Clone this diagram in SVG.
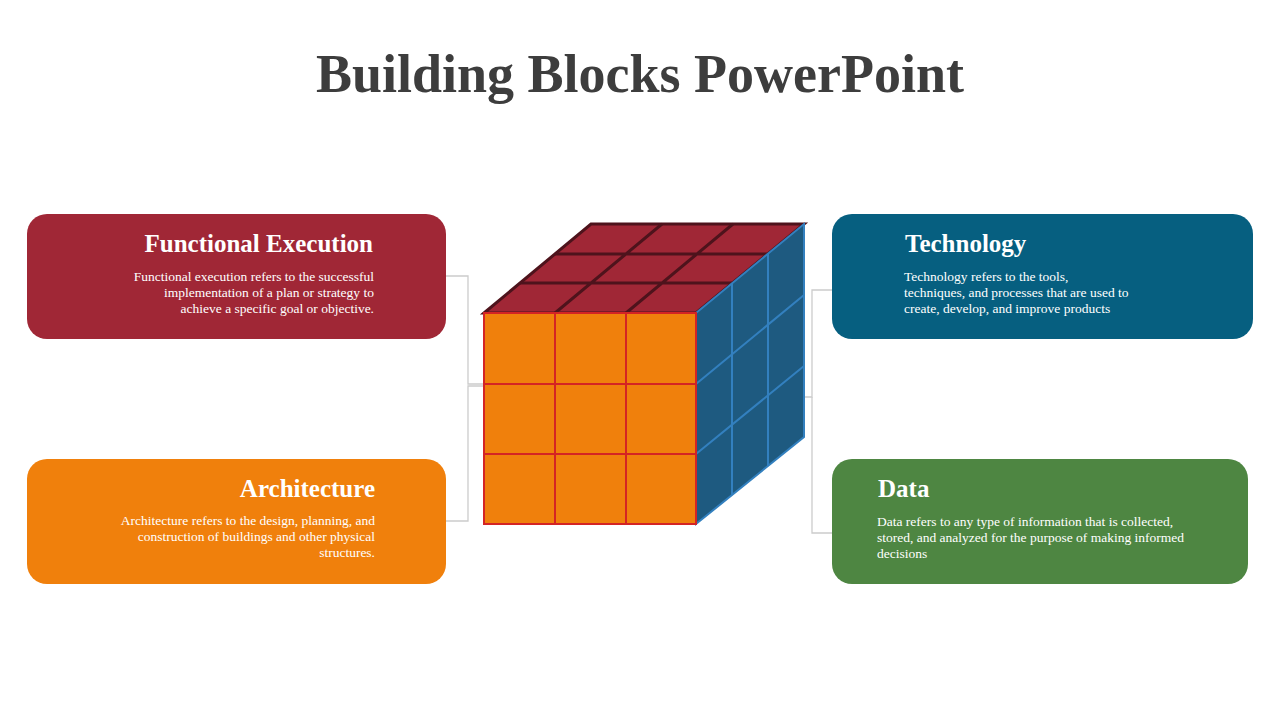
<svg xmlns="http://www.w3.org/2000/svg" width="1280" height="720" viewBox="0 0 1280 720">
<style>
.h{font-family:"Liberation Serif","DejaVu Serif",serif;font-weight:bold;font-size:25px;fill:#fff}
.b{font-family:"Liberation Serif","DejaVu Serif",serif;font-size:13.5px;fill:#fff}
.r{text-anchor:end}
.c{fill:none;stroke:#cccccc;stroke-width:1.3}
.f{fill:#f0800c;stroke:#d42424;stroke-width:2}
.s{fill:#1e5a80;stroke:#3380bf;stroke-width:2}
.t{fill:#a02736;stroke:#4e131c;stroke-width:3}
</style>
<rect width="1280" height="720" fill="#fff"/>
<text x="640" y="92" text-anchor="middle" font-family="Liberation Serif, DejaVu Serif, serif" font-weight="bold" font-size="54" fill="#3d3d3d">Building Blocks PowerPoint</text>
<g id="connectors">
<polyline class="c" points="446,276 468,276 468,384 484,384"/>
<polyline class="c" points="446,521 468,521 468,386 484,386"/>
<polyline class="c" points="833,290 812,290 812,397 804,397"/>
<polyline class="c" points="833,533 812,533 812,397"/>
</g>
<g id="cube">
<path class="t" d="M484,313 L591,224 L804,224 L696,313 Z"/>
<path class="t" d="M520,283 L733,283 M555,254 L769,254 M555,313 L662,224 M626,313 L733,224" fill="none"/>
<path class="s" d="M696,313 L804,224 L804,437 L696,524 Z"/>
<path class="s" d="M732,283 L732,495 M768,254 L768,466 M696,384 L804,295 M696,454 L804,366" fill="none"/>
<rect class="f" x="484" y="313" width="212" height="211"/>
<path class="f" d="M555,313 V524 M626,313 V524 M484,384 H696 M484,454 H696" fill="none"/>
</g>
<g id="functional">
<rect x="27" y="214" width="419" height="125" rx="20" fill="#a02736"/>
<text class="h r" x="373" y="252">Functional Execution</text>
<text class="b r" x="374" y="281">Functional execution refers to the successful</text>
<text class="b r" x="374" y="297">implementation of a plan or strategy to</text>
<text class="b r" x="374" y="313">achieve a specific goal or objective.</text>
</g>
<g id="architecture">
<rect x="27" y="459" width="419" height="125" rx="20" fill="#f0800c"/>
<text class="h r" x="375" y="497">Architecture</text>
<text class="b r" x="375" y="525">Architecture refers to the design, planning, and</text>
<text class="b r" x="375" y="541">construction of buildings and other physical</text>
<text class="b r" x="375" y="557">structures.</text>
</g>
<g id="technology">
<rect x="832" y="214" width="421" height="125" rx="20" fill="#065f80"/>
<text class="h" x="905" y="252">Technology</text>
<text class="b" x="904" y="281">Technology refers to the tools,</text>
<text class="b" x="904" y="297">techniques, and processes that are used to</text>
<text class="b" x="904" y="313">create, develop, and improve products</text>
</g>
<g id="data">
<rect x="832" y="459" width="416" height="125" rx="20" fill="#4e8642"/>
<text class="h" x="878" y="497">Data</text>
<text class="b" x="877" y="526">Data refers to any type of information that is collected,</text>
<text class="b" x="877" y="542">stored, and analyzed for the purpose of making informed</text>
<text class="b" x="877" y="558">decisions</text>
</g>
</svg>
